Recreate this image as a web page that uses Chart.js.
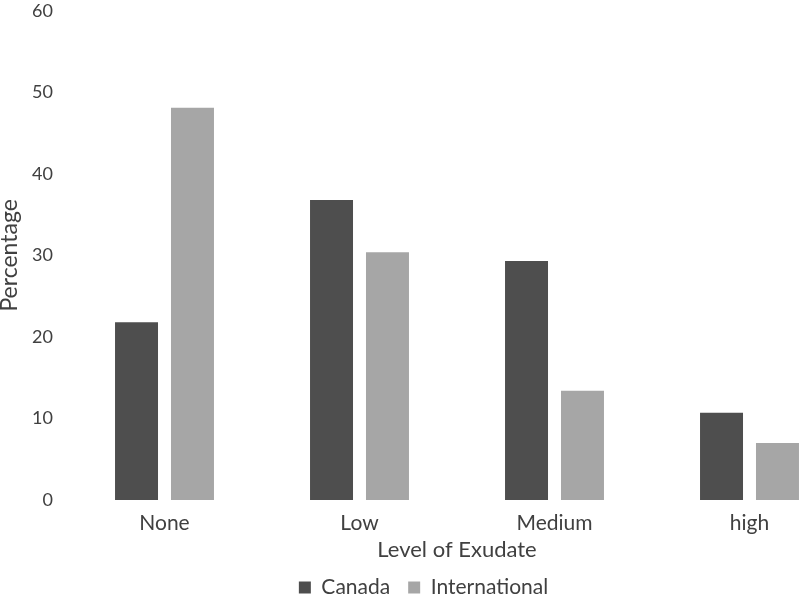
<!DOCTYPE html>
<html lang="en">
  <head>
    <meta charset="UTF-8" />
    <title>Level of Exudate</title>
    <style>
      * {
        margin: 0;
        padding: 0;
        box-sizing: border-box;
      }
      body {
        width: 800px;
        height: 596px;
        overflow: hidden;
        background: #fff;
      }
      .chartBox {
        width: 860px;
        height: 622px;
        margin-top: -14px;
      }
    </style>
  </head>
  <body>
    <div class="chartBox">
      <canvas id="myChart"></canvas>
    </div>

    <script src="https://cdn.jsdelivr.net/npm/chart.js"></script>
    <script>
      const categories = ["None", "Low", "Medium", "high"];
      const canadaValues = [21.8, 36.8, 29.3, 10.7];
      const internationalValues = [48.1, 30.4, 13.4, 7.0];
      const yTicks = [0, 10, 20, 30, 40, 50, 60];

      const textColor = "#404040";
      const fontFamily = "Lato, 'Open Sans', sans-serif";

      const data = {
        labels: categories,
        datasets: [
          {
            label: "Canada",
            data: canadaValues,
            backgroundColor: "#4e4e4e",
            categoryPercentage: 0.574,
            barPercentage: 0.768,
          },
          {
            label: "International",
            data: internationalValues,
            backgroundColor: "#a6a6a6",
            categoryPercentage: 0.574,
            barPercentage: 0.768,
          },
        ],
      };

      const config = {
        type: "bar",
        data: data,
        options: {
          responsive: true,
          maintainAspectRatio: false,
          animation: false,
          layout: {
            padding: { left: 0, right: 13, top: 0, bottom: 0 },
          },
          plugins: {
            tooltip: { enabled: false },
            legend: {
              position: "bottom",
              labels: {
                boxWidth: 12,
                boxHeight: 12,
                padding: 18,
                color: textColor,
                font: { family: fontFamily, size: 21, lineHeight: 0.8 },
              },
            },
          },
          scales: {
            x: {
              grid: { display: false, drawTicks: false },
              border: { display: false },
              ticks: {
                color: textColor,
                padding: 11,
                font: { family: fontFamily, size: 21 },
              },
              title: {
                display: true,
                text: "Level of Exudate",
                color: textColor,
                padding: { top: 0, bottom: -2 },
                font: { family: fontFamily, size: 22, lineHeight: 1 },
              },
              afterFit: (scale) => {
                scale.height = 59;
              },
            },
            y: {
              min: yTicks[0],
              max: yTicks[yTicks.length - 1],
              grid: { display: false, drawTicks: false },
              border: { display: false },
              afterBuildTicks: (scale) => {
                scale.ticks = yTicks.map((v) => ({ value: v }));
              },
              ticks: {
                color: textColor,
                padding: 14,
                font: { family: fontFamily, size: 18 },
              },
              title: {
                display: true,
                text: "Percentage",
                color: textColor,
                padding: { top: 0, bottom: 0 },
                font: { family: fontFamily, size: 23, lineHeight: 0.8 },
              },
              afterFit: (scale) => {
                scale.width = 67;
              },
            },
          },
        },
      };

      const myChart = new Chart(document.getElementById("myChart"), config);
    </script>
  </body>
</html>
